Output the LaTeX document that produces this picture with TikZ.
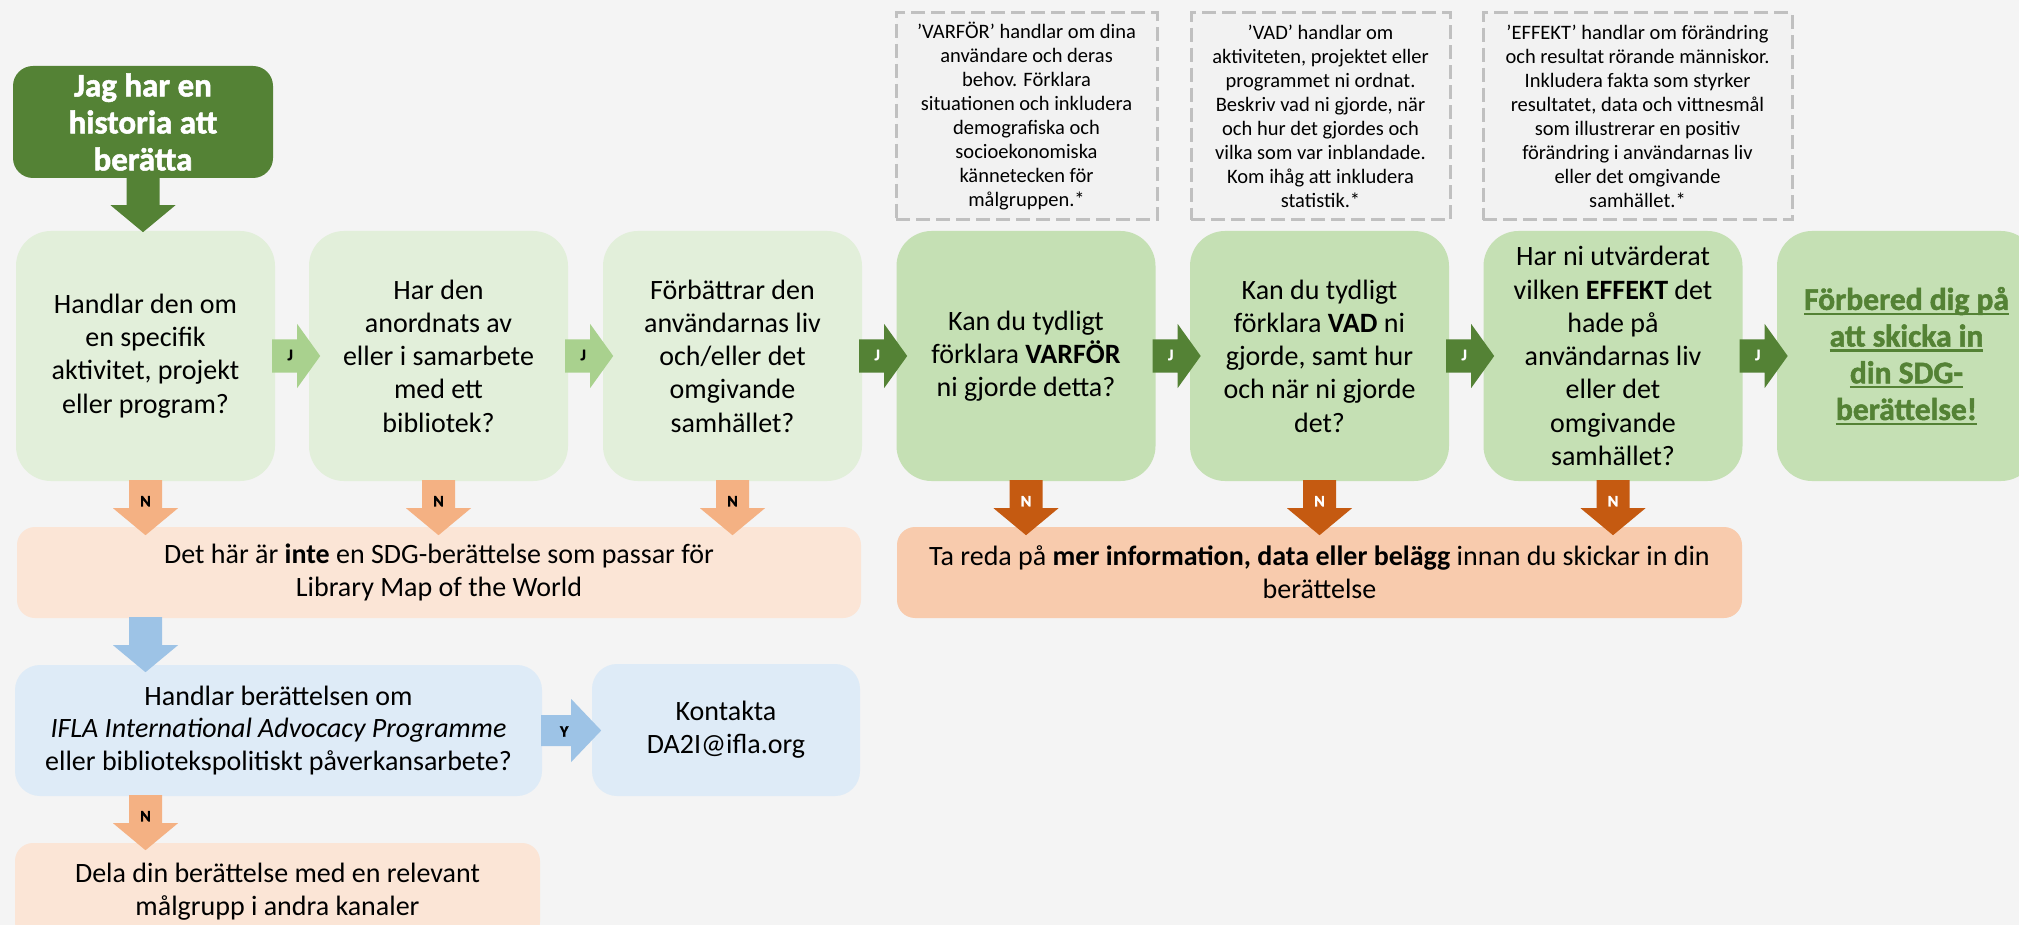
\documentclass[tikz,border=0pt]{standalone}
\usepackage{fontspec}
\setmainfont{Carlito}
\newfontfamily\heavyfont[FakeBold=1.6]{Carlito}
\usetikzlibrary{calc}
\definecolor{bg}{HTML}{F4F4F4}
\definecolor{dkgreen}{HTML}{548235}
\definecolor{boxlt}{HTML}{E2EFDA}
\definecolor{boxmd}{HTML}{C5E0B4}
\definecolor{arrlt}{HTML}{A9D18E}
\definecolor{peach}{HTML}{FBE5D6}
\definecolor{orangebox}{HTML}{F8CBAD}
\definecolor{arrorlt}{HTML}{F4B183}
\definecolor{arrordk}{HTML}{C55A11}
\definecolor{bluebox}{HTML}{DEEBF7}
\definecolor{bluearr}{HTML}{9DC3E6}
\definecolor{dashgray}{HTML}{C0C0C0}
\definecolor{notefill}{HTML}{F2F2F2}
\newcommand{\greenul}[1]{\setbox0=\hbox{#1}\leavevmode\rlap{\raisebox{-5pt}{\rule{\wd0}{2.2pt}}}\box0}
% right block arrow: #1 anchor, #2 fill, #3 label colour, #4 label, #5 label node name
\newcommand{\rightblock}[5]{%
  \fill[#2] ($(#1)+(-3,-16.5)$) -- ++(25,0) -- ++(0,-15.5) -- ++(23,32) -- ++(-23,32) -- ++(0,-15.5) -- ++(-25,0) -- cycle;
  \node[lbl,text=#3] (#5) at ($(#1)+(15,-1)$) {#4};
}
% down block arrow: #1 anchor, #2 fill, #3 label colour, #4 label, #5 label node name
\newcommand{\downblock}[5]{%
  \fill[#2] ($(#1)+(-16.5,-1)$) -- ++(33,0) -- ++(0,28) -- ++(16,0) -- ++(-32.5,27) -- ++(-32.5,-27) -- ++(16,0) -- cycle;
  \node[lbl,text=#3] (#5) at ($(#1)+(0,20)$) {#4};
}
\begin{document}
\begin{tikzpicture}[x=1pt,y=-1pt,
  box/.style={rounded corners=35pt, minimum width=259pt, minimum height=250pt, inner sep=0pt, align=center, font=\fontsize{28}{33.3}\selectfont},
  note/.style={draw=dashgray, line width=3pt, dash pattern=on 14pt off 6pt, fill=notefill, minimum height=207pt, inner sep=0pt, align=center, font=\fontsize{20.5}{24}\selectfont},
  wide/.style={rounded corners=18pt, inner sep=0pt, align=center, font=\fontsize{28}{32.7}\selectfont},
  lbl/.style={font=\heavyfont\bfseries\fontsize{16}{16}\selectfont, inner sep=0pt}
]
\useasboundingbox (0,0) rectangle (2019,925);
\clip (0,0) rectangle (2019,925);
\fill[bg] (0,0) rectangle (2019,925);

% notes
\node[note, minimum width=261pt] (noteA) at (1026.5,116.5) {'VARFÖR' handlar om dina\\användare och deras\\behov. Förklara\\situationen och inkludera\\demografiska och\\socioekonomiska\\kännetecken för\\målgruppen.*};
\node[note, minimum width=259pt] (noteB) at (1320.5,116.5) {'VAD' handlar om\\aktiviteten, projektet eller\\programmet ni ordnat.\\Beskriv vad ni gjorde, när\\och hur det gjordes och\\vilka som var inblandade.\\Kom ihåg att inkludera\\statistik.*};
\node[note, minimum width=309pt] (noteC) at (1637.5,116.5) {'EFFEKT' handlar om förändring\\och resultat rörande människor.\\Inkludera fakta som styrker\\resultatet, data och vittnesmål\\som illustrerar en positiv\\förändring i användarnas liv\\eller det omgivande\\samhället.*};

% start
\node[fill=dkgreen, rounded corners=20pt, minimum width=260pt, minimum height=112pt, inner sep=0pt, align=center, text=white, font=\heavyfont\bfseries\fontsize{33}{37}\selectfont] (start) at (143,122) {Jag har en\\historia att\\berätta};

% main row
\node[box, fill=boxlt] (b1) at (145.5,356) {Handlar den om\\en specifik\\aktivitet, projekt\\eller program?};
\node[box, fill=boxlt] (b2) at (438.5,356) {Har den\\anordnats av\\eller i samarbete\\med ett\\bibliotek?};
\node[box, fill=boxlt] (b3) at (732.5,356) {Förbättrar den\\användarnas liv\\och/eller det\\omgivande\\samhället?};
\node[box, fill=boxmd] (b4) at (1026,356) {Kan du tydligt\\förklara \textbf{VARFÖR}\\ni gjorde detta?};
\node[box, fill=boxmd] (b5) at (1319.5,356) {Kan du tydligt\\förklara \textbf{VAD} ni\\gjorde, samt hur\\och när ni gjorde\\det?};
\node[box, fill=boxmd] (b6) at (1613,356) {Har ni utvärderat\\vilken \textbf{EFFEKT} det\\hade på\\användarnas liv\\eller det\\omgivande\\samhället?};
\node[box, fill=boxmd, text=dkgreen, font=\heavyfont\bfseries\fontsize{31.5}{36.7}\selectfont] (b7) at (1906.5,356) {\greenul{Förbered dig på}\\\greenul{att skicka in}\\\greenul{din SDG-}\\\greenul{berättelse!}};

% lower boxes
\node[wide, fill=peach, minimum width=844pt, minimum height=91pt] (notstory) at (439,572.5) {Det här är \textbf{inte} en SDG-berättelse som passar för\\Library Map of the World};
\node[wide, fill=orangebox, minimum width=845pt, minimum height=91pt] (moreinfo) at (1319.5,572.5) {Ta reda på \textbf{mer information, data eller belägg} innan du skickar in din\\berättelse};
\node[wide, rounded corners=25pt, fill=bluebox, minimum width=527pt, minimum height=131pt] (advocacy) at (278.5,730.5) {Handlar berättelsen om\\\textit{IFLA International Advocacy Programme}\\eller bibliotekspolitiskt påverkansarbete?};
\node[wide, rounded corners=25pt, fill=bluebox, minimum width=268pt, minimum height=132pt] (contact) at (726,730) {Kontakta\\DA2I@ifla.org};
\node[wide, fill=peach, minimum width=525pt, minimum height=97pt] (share) at (277.5,891.5) {Dela din berättelse med en relevant\\målgrupp i andra kanaler};

% arrows
\downblock{start.south}{dkgreen}{white}{}{a0}
\rightblock{b1.east}{arrlt}{black}{J}{j1}
\rightblock{b2.east}{arrlt}{black}{J}{j2}
\rightblock{b3.east}{dkgreen}{white}{J}{j3}
\rightblock{b4.east}{dkgreen}{white}{J}{j4}
\rightblock{b5.east}{dkgreen}{white}{J}{j5}
\rightblock{b6.east}{dkgreen}{white}{J}{j6}
\downblock{b1.south}{arrorlt}{black}{N}{n1}
\downblock{b2.south}{arrorlt}{black}{N}{n2}
\downblock{b3.south}{arrorlt}{black}{N}{n3}
\downblock{b4.south}{arrordk}{white}{N}{n4}
\downblock{b5.south}{arrordk}{white}{N}{n5}
\downblock{b6.south}{arrordk}{white}{N}{n6}
\downblock{b1.south |- notstory.south}{bluearr}{black}{}{a7}
\downblock{b1.south |- advocacy.south}{arrorlt}{black}{N}{n7}
% Y arrow
\fill[bluearr] ($(advocacy.east)+(-1,-15.5)$) -- ++(30,0) -- ++(0,-16) -- ++(30,31.5) -- ++(-30,31.5) -- ++(0,-16) -- ++(-30,0) -- cycle;
\node[lbl] (y1) at ($(advocacy.east)+(22,1)$) {Y};
\end{tikzpicture}
\end{document}
